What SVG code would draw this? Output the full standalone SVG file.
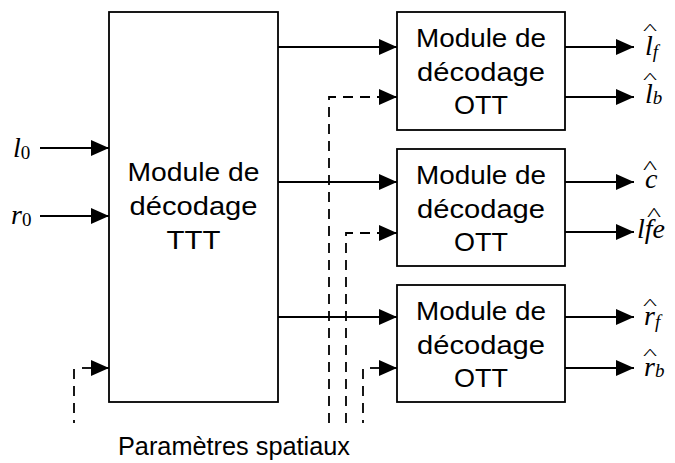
<svg xmlns="http://www.w3.org/2000/svg" width="675" height="463" viewBox="0 0 675 463">
<defs>
<marker id="ah" markerUnits="userSpaceOnUse" markerWidth="18" markerHeight="16" refX="18" refY="8" orient="auto"><path d="M0,0 L18,8 L0,16 Z" fill="#000"/></marker>
<style>
.box{fill:#fff;stroke:#000;stroke-width:1.8}
.ln{fill:none;stroke:#000;stroke-width:1.8}
.da{stroke-dasharray:10,7}
.t{font-family:"Liberation Sans",Arial,sans-serif;font-size:26px;text-anchor:middle;fill:#000}
.m{font-family:"Liberation Serif","Times New Roman",serif;font-style:italic;font-size:28px;fill:#000}
.s{font-size:19px}
.h{font-family:"Liberation Serif","Times New Roman",serif;font-size:26px;text-anchor:middle;fill:#000}
</style>
</defs>
<g id="connectors">
<line class="ln" x1="40" y1="148" x2="109" y2="148" marker-end="url(#ah)"/>
<line class="ln" x1="40" y1="216" x2="109" y2="216" marker-end="url(#ah)"/>
<line class="ln" x1="82" y1="368" x2="109" y2="368" marker-end="url(#ah)"/>
<line class="ln da" x1="74" y1="369" x2="74" y2="423"/>
<line class="ln" x1="278" y1="47" x2="397" y2="47" marker-end="url(#ah)"/>
<line class="ln" x1="278" y1="182" x2="397" y2="182" marker-end="url(#ah)"/>
<line class="ln" x1="278" y1="317" x2="397" y2="317" marker-end="url(#ah)"/>
<polyline class="ln da" points="329,423 329,97 397,97" marker-end="url(#ah)"/>
<polyline class="ln da" points="346,423 346,233 397,233" marker-end="url(#ah)"/>
<line class="ln" x1="370" y1="368" x2="397" y2="368" marker-end="url(#ah)"/>
<line class="ln da" x1="363" y1="369" x2="363" y2="423"/>
<line class="ln" x1="565" y1="47" x2="634" y2="47" marker-end="url(#ah)"/>
<line class="ln" x1="565" y1="97" x2="634" y2="97" marker-end="url(#ah)"/>
<line class="ln" x1="565" y1="182" x2="634" y2="182" marker-end="url(#ah)"/>
<line class="ln" x1="565" y1="232" x2="634" y2="232" marker-end="url(#ah)"/>
<line class="ln" x1="565" y1="317" x2="634" y2="317" marker-end="url(#ah)"/>
<line class="ln" x1="565" y1="368" x2="634" y2="368" marker-end="url(#ah)"/>
</g>
<g id="ttt">
<rect class="box" x="109" y="12" width="169" height="390"/>
<text class="t" x="193.5" y="181" textLength="132" lengthAdjust="spacingAndGlyphs">Module de</text>
<text class="t" x="193.5" y="215" textLength="128" lengthAdjust="spacingAndGlyphs">décodage</text>
<text class="t" x="193.5" y="249" textLength="54" lengthAdjust="spacingAndGlyphs">TTT</text>
</g>
<g id="ott1">
<rect class="box" x="397" y="12" width="168" height="118"/>
<text class="t" x="481" y="47" textLength="130" lengthAdjust="spacingAndGlyphs">Module de</text>
<text class="t" x="481" y="81" textLength="128" lengthAdjust="spacingAndGlyphs">décodage</text>
<text class="t" x="481" y="114" textLength="54" lengthAdjust="spacingAndGlyphs">OTT</text>
</g>
<g id="ott2">
<rect class="box" x="397" y="149" width="168" height="117"/>
<text class="t" x="481" y="184" textLength="130" lengthAdjust="spacingAndGlyphs">Module de</text>
<text class="t" x="481" y="218" textLength="128" lengthAdjust="spacingAndGlyphs">décodage</text>
<text class="t" x="481" y="251" textLength="54" lengthAdjust="spacingAndGlyphs">OTT</text>
</g>
<g id="ott3">
<rect class="box" x="397" y="285" width="168" height="117"/>
<text class="t" x="481" y="320" textLength="130" lengthAdjust="spacingAndGlyphs">Module de</text>
<text class="t" x="481" y="354" textLength="128" lengthAdjust="spacingAndGlyphs">décodage</text>
<text class="t" x="481" y="387" textLength="54" lengthAdjust="spacingAndGlyphs">OTT</text>
</g>
<g id="labels">
<text class="m" x="13" y="157">l<tspan class="s" font-style="normal" dy="2">0</tspan></text>
<text class="m" x="11" y="224">r<tspan class="s" font-style="normal" dy="2">0</tspan></text>
<text class="h" transform="translate(650,34) scale(1.15,0.6)">^</text>
<text class="m" x="645" y="55">l<tspan class="s" dy="3">f</tspan></text>
<text class="h" transform="translate(650,83) scale(1.15,0.6)">^</text>
<text class="m" x="645" y="103">l<tspan class="s" dy="1">b</tspan></text>
<text class="h" transform="translate(650,174) scale(1.15,0.7)">^</text>
<text class="m" x="645" y="188">c</text>
<text class="h" transform="translate(654,221) scale(1.15,0.7)">^</text>
<text class="m" x="637" y="238">lfe</text>
<text class="h" transform="translate(650,309) scale(1.15,0.6)">^</text>
<text class="m" x="644" y="325">r<tspan class="s" dy="3">f</tspan></text>
<text class="h" transform="translate(650,359) scale(1.15,0.6)">^</text>
<text class="m" x="644" y="376">r<tspan class="s" dy="1">b</tspan></text>
<text class="t" x="234" y="455" textLength="232" lengthAdjust="spacingAndGlyphs">Paramètres spatiaux</text>
</g>
</svg>
